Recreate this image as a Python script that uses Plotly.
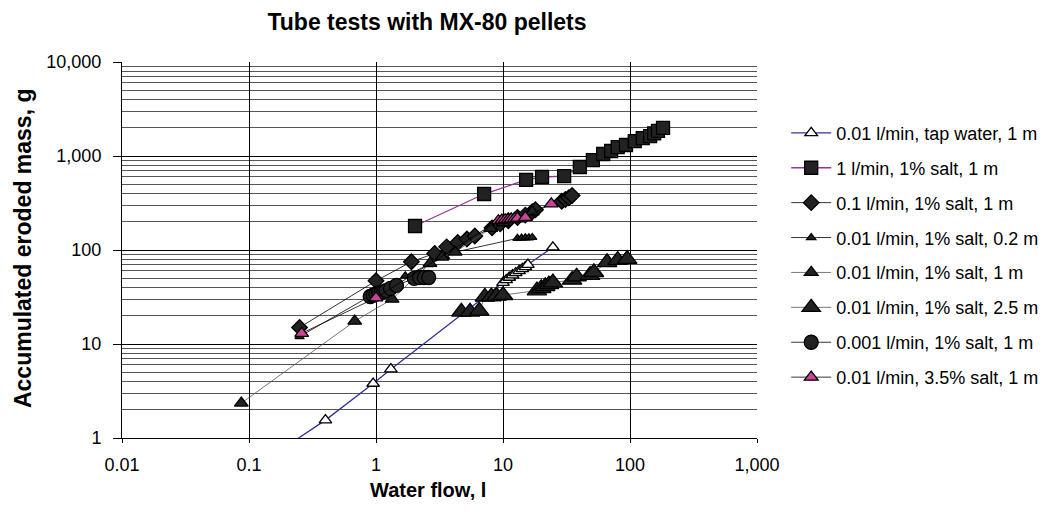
import plotly.graph_objects as go

# ---- data ----
tap_x = [0.15, 0.40, 0.95, 1.31, 10.0, 10.6, 11.2, 11.9, 12.6, 13.4, 14.2, 15.0, 15.7, 24.7]
tap_y = [0.64, 1.55, 3.8, 5.4, 45, 48, 51, 54, 57, 60, 63, 66, 70, 107]

s1_x = [2.03, 7.1, 15.2, 20.3, 30.3, 40.3, 51, 61.5, 71, 80, 93, 109, 126, 144, 155, 166, 182]
s1_y = [180, 394, 556, 598, 612, 764, 906, 1050, 1130, 1240, 1310, 1440, 1550, 1630, 1740, 1850, 1990]

s2_x = [0.25, 1.0, 1.9, 2.9, 3.6, 4.4, 5.2, 6.0, 8.2, 9.5, 11, 13, 15, 17, 18, 29, 31, 33, 35]
s2_y = [15, 47, 75, 92, 108, 120, 131, 141, 172, 190, 205, 222, 235, 255, 268, 330, 345, 360, 380]

s3_x = [0.25, 1.7, 2.6, 3.5, 4.2, 13, 14, 15, 16, 17]
s3_y = [12, 53, 70, 85, 95, 133, 134, 135, 135, 136]

s4_x = [0.087, 0.68, 1.34, 2.66, 3.3, 4.2, 8.0, 10, 13, 15, 17]
s4_y = [2.35, 17.5, 30, 72, 84, 95, 170, 195, 215, 225, 255]

s5_x = [4.7, 5.5, 6.5, 7.2, 8.1, 8.9, 10, 18.5, 20, 21.5, 23, 24.7, 35, 38, 48.5, 52, 66, 80, 95]
s5_y = [22, 22, 22.5, 31.7, 32, 32.5, 33, 37, 39, 41, 43, 45, 48, 52, 54, 58, 74, 78, 80]

s6_x = [0.9, 0.95, 1.0, 1.05, 1.1, 1.15, 1.2, 1.3, 1.45, 2.0, 2.2, 2.4, 2.6]
s6_y = [32, 33, 34, 35, 35.5, 36, 37, 39, 42, 50, 51, 51, 51]

s7_x = [0.26, 1.0, 9.2, 9.8, 10.4, 11, 11.6, 12.3, 13, 15, 24]
s7_y = [13, 31, 205, 208, 210, 212, 214, 216, 218, 222, 310]

names = ["0.01 l/min, tap water, 1 m", "1 l/min, 1% salt, 1 m", "0.1 l/min, 1% salt, 1 m",
         "0.01 l/min, 1% salt, 0.2 m", "0.01 l/min, 1% salt, 1 m", "0.01 l/min, 1% salt, 2.5 m",
         "0.001 l/min, 1% salt, 1 m", "0.01 l/min, 3.5% salt, 1 m"]

x_ticks = [0.01, 0.1, 1, 10, 100, 1000]
x_ticklabels = ["0.01", "0.1", "1", "10", "100", "1,000"]
y_ticks = [1, 10, 100, 1000, 10000]
y_ticklabels = ["1", "10", "100", "1,000", "10,000"]

dark = "#222222"
styles = [
    dict(color="#333399", sym="triangle-up", size=11, fill="white", lw=1.3),
    dict(color="#993399", sym="square", size=13, fill=dark, lw=1.3),
    dict(color="black", sym="diamond", size=12, fill=dark, lw=0.8),
    dict(color="black", sym="triangle-up", size=8, fill=dark, lw=0.8),
    dict(color="#555555", sym="triangle-up", size=12, fill=dark, lw=0.8),
    dict(color="#555555", sym="triangle-up", size=17, fill=dark, lw=0.8),
    dict(color="black", sym="circle", size=14, fill=dark, lw=0.8),
    dict(color="black", sym="triangle-up", size=12, fill="#cc4499", lw=0.8),
]
series = [(tap_x, tap_y), (s1_x, s1_y), (s2_x, s2_y), (s3_x, s3_y), (s4_x, s4_y),
          (s5_x, s5_y), (s6_x, s6_y), (s7_x, s7_y)]

fig = go.Figure()
for i, ((xs, ys), nm, st) in enumerate(zip(series, names, styles)):
    fig.add_trace(go.Scatter(
        x=xs, y=ys, name=nm, mode="lines+markers", legendgroup=f"g{i}",
        line=dict(color=st["color"], width=st["lw"]),
        marker=dict(symbol=st["sym"], size=st["size"], color=st["fill"],
                    line=dict(color="black", width=1.3)),
    ))

minor_y = [m * 10 ** e for e in range(0, 4) for m in range(2, 10)]
FONT = "Liberation Sans, Arial, sans-serif"

fig.update_layout(
    width=1041, height=512,
    paper_bgcolor="white", plot_bgcolor="white",
    margin=dict(l=114, r=292, t=54, b=82, autoexpand=False),
    font=dict(family=FONT, size=18, color="black"),
    title=dict(text="<b>Tube tests with MX-80 pellets</b>", x=0.4025, xanchor="center",
               y=0.973, yanchor="middle", font=dict(size=23)),
    showlegend=True,
    legend=dict(x=1.046, y=0.86, xanchor="left", yanchor="top",
                font=dict(size=18), tracegroupgap=8.5, itemwidth=40,
                traceorder="grouped", bgcolor="rgba(0,0,0,0)"),
    xaxis=dict(type="log", range=[-2, 3], tickvals=x_ticks, ticktext=x_ticklabels,
               showgrid=True, gridcolor="black", gridwidth=1, zeroline=False,
               showline=True, linecolor="black", ticks="outside", ticklen=4,
               tickcolor="black", tickfont=dict(size=18), ticklabelstandoff=6),
    yaxis=dict(type="log", range=[0, 4], tickvals=y_ticks, ticktext=y_ticklabels,
               showgrid=True, gridcolor="black", gridwidth=1, zeroline=False,
               showline=True, linecolor="black", ticks="outside", ticklen=8,
               tickcolor="black", tickfont=dict(size=18), ticklabelstandoff=8,
               minor=dict(tickvals=minor_y, showgrid=True, gridcolor="#555555",
                          gridwidth=1, ticks="")),
    annotations=[
        dict(text="<b>Water flow, l</b>", xref="paper", yref="paper",
             x=0.482, y=-0.138, xanchor="center", yanchor="middle",
             showarrow=False, font=dict(size=20)),
        dict(text="<b>Accumulated eroded mass, g</b>", xref="paper", yref="paper",
             x=-0.156, y=0.505, xanchor="center", yanchor="middle", textangle=-90,
             showarrow=False, font=dict(size=23)),
    ],
)

fig.write_html("out.html")
